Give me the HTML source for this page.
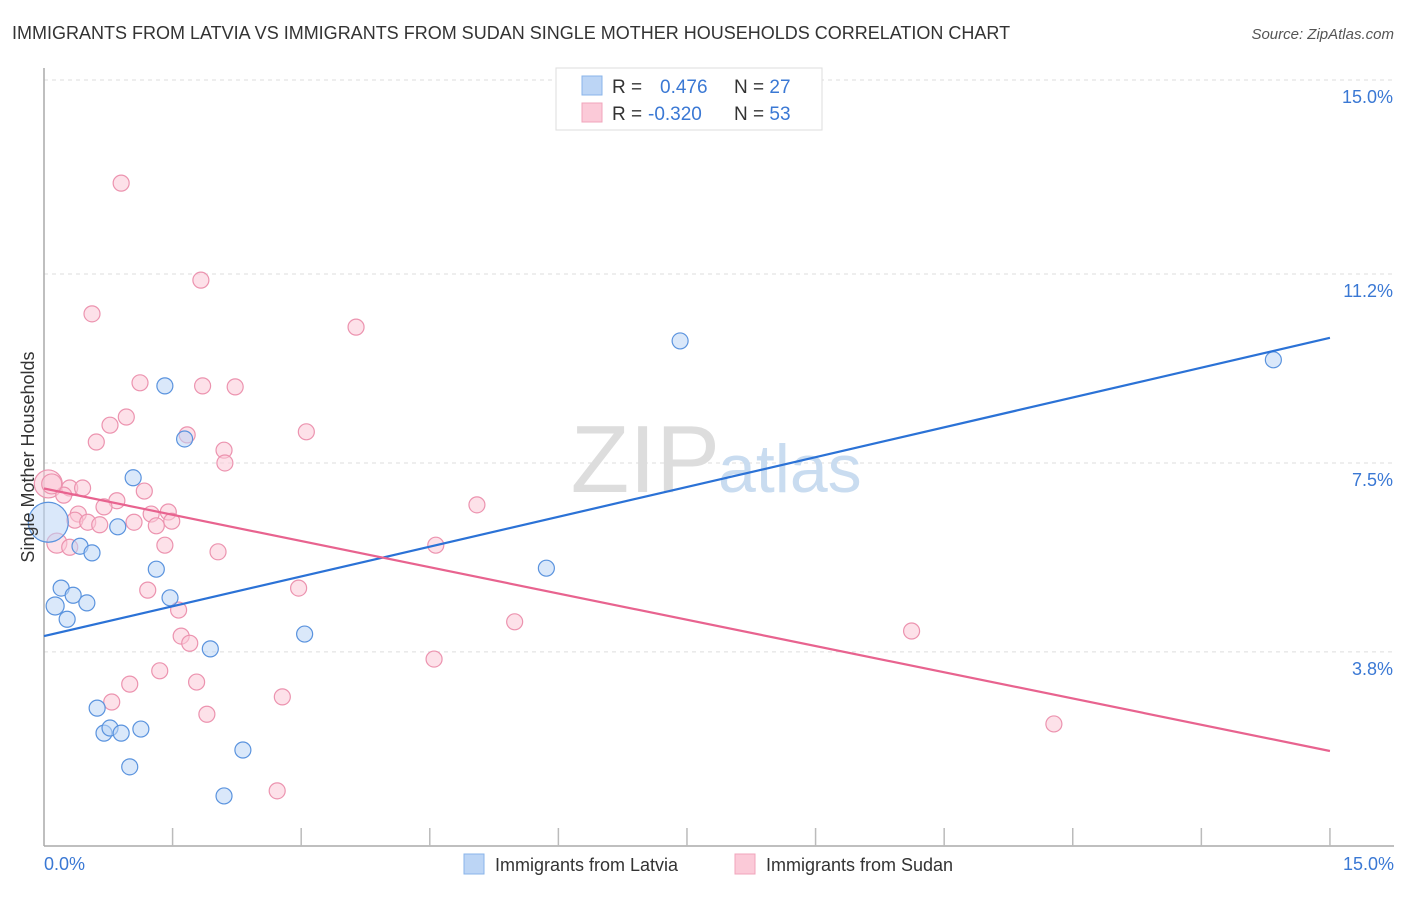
<!DOCTYPE html>
<html><head><meta charset="utf-8"><style>
body{margin:0;background:#fff;font-family:"Liberation Sans",sans-serif;}
svg text{font-family:"Liberation Sans",sans-serif;}
</style></head><body>
<svg id="chart" width="1406" height="892" xmlns="http://www.w3.org/2000/svg">
<text x="12" y="39" font-size="18" fill="#333">IMMIGRANTS FROM LATVIA VS IMMIGRANTS FROM SUDAN SINGLE MOTHER HOUSEHOLDS CORRELATION CHART</text>
<text x="1394" y="39" font-size="15" fill="#555" font-style="italic" text-anchor="end">Source: ZipAtlas.com</text>
<g id="grid"></g>
<text x="720" y="492" font-size="96" fill="#ddd" text-anchor="end" font-family="Liberation Serif">ZIP</text>
<text x="718" y="492" font-size="68" fill="#c9dcf0">atlas</text>
<line x1="44" y1="68" x2="44" y2="846" stroke="#aaa" stroke-width="1.5"/>
<line x1="44" y1="846" x2="1394" y2="846" stroke="#aaa" stroke-width="1.5"/>
<g id="ticks"></g>
<g id="marks"></g>
<text x="34" y="457" font-size="18" fill="#333" text-anchor="middle" transform="rotate(-90 34 457)">Single Mother Households</text>
<text x="44" y="870" font-size="18" fill="#3a78d4">0.0%</text>
<text x="1394" y="870" font-size="18" fill="#3a78d4" text-anchor="end">15.0%</text>
<g>
<rect x="556" y="68" width="266" height="62" fill="#fff" stroke="#ddd"/>
<rect x="582" y="76" width="20" height="19" fill="#bcd5f5" stroke="#8ab4ea"/>
<rect x="582" y="103" width="20" height="19" fill="#fbcad8" stroke="#f0a4bb"/>
<text x="612" y="93" font-size="19" fill="#333">R = <tspan x="660" fill="#3a78d4">0.476</tspan><tspan x="734" fill="#333">N = </tspan><tspan fill="#3a78d4">27</tspan></text>
<text x="612" y="120" font-size="19" fill="#333">R = <tspan x="648" fill="#3a78d4">-0.320</tspan><tspan x="734" fill="#333">N = </tspan><tspan fill="#3a78d4">53</tspan></text>
</g>
<g>
<rect x="464" y="854" width="20" height="20" fill="#bcd5f5" stroke="#8ab4ea"/>
<text x="495" y="871" font-size="18" fill="#333">Immigrants from Latvia</text>
<rect x="735" y="854" width="20" height="20" fill="#fbcad8" stroke="#f0a4bb"/>
<text x="766" y="871" font-size="18" fill="#333">Immigrants from Sudan</text>
</g>
</svg>
<script>
const yTicks=[3.8,7.5,11.2,15.0];
const yTickLabels=["3.8%","7.5%","11.2%","15.0%"];
const xTicks=[1.5,3,4.5,6,7.5,9,10.5,12,13.5,15];
const latviaX=[0.05,0.13,0.20,0.27,0.34,0.42,0.50,0.56,0.62,0.70,0.77,0.86,0.90,1.04,1.13,1.00,1.31,1.41,1.47,1.64,1.94,2.10,2.32,3.04,5.86,7.42,14.34];
const latviaY=[6.34,4.70,5.05,4.44,4.91,5.87,4.76,5.74,2.70,2.21,2.31,6.25,2.21,7.21,2.29,1.55,5.42,9.01,4.86,7.97,3.86,0.98,1.88,4.15,5.44,9.89,9.52];
const latviaSize=[20,9,8,8,8,8,8,8,8,8,8,8,8,8,8,8,8,8,8,8,8,8,8,8,8,8,8];
const sudanX=[0.90,1.83,0.56,3.64,1.12,1.85,2.23,0.96,0.77,0.61,1.67,3.06,2.10,2.11,0.05,0.30,0.45,0.23,1.17,0.85,0.70,0.40,0.36,0.51,0.65,1.05,1.25,1.45,1.49,1.31,0.15,0.30,1.41,2.03,5.05,4.57,1.21,2.97,1.57,5.49,1.60,1.70,10.12,1.35,4.55,1.00,1.78,0.79,2.78,1.90,11.78,2.72,0.09];
const sudanY=[12.98,11.08,10.42,10.16,9.07,9.01,8.99,8.40,8.24,7.91,8.05,8.11,7.75,7.50,7.09,7.01,7.01,6.87,6.95,6.76,6.64,6.50,6.38,6.34,6.29,6.34,6.50,6.54,6.36,6.27,5.93,5.85,5.89,5.76,6.68,5.89,5.01,5.05,4.62,4.39,4.11,3.97,4.21,3.43,3.66,3.17,3.21,2.82,2.92,2.58,2.39,1.08,7.09];
const sudanSize=[8,8,8,8,8,8,8,8,8,8,8,8,8,8,14,8,8,8,8,8,8,8,8,8,8,8,8,8,8,8,10,8,8,8,8,8,8,8,8,8,8,8,8,8,8,8,8,8,8,8,8,8,10];
const latviaTrend=[4.11,9.95];
const sudanTrend=[7.00,1.86];
const NS="http://www.w3.org/2000/svg";
const sx=v=>44+v*85.73, sy=v=>846-v*51.07;
function mk(tag,attrs,parent){const e=document.createElementNS(NS,tag);for(const k in attrs)e.setAttribute(k,attrs[k]);parent.appendChild(e);return e;}
const grid=document.getElementById('grid'),ticks=document.getElementById('ticks'),marks=document.getElementById('marks');
yTicks.forEach((v,i)=>{
 const l=mk('line',{x1:44,x2:1394,y1:sy(v),y2:sy(v),stroke:'#ddd','stroke-dasharray':'4 4'},grid);
 
 
 const t=mk('text',{x:1393,y:sy(v)+23,'font-size':18,fill:'#3a78d4','text-anchor':'end'},grid);
 t.textContent=yTickLabels[i];
 
 
});
xTicks.forEach(v=>{
 const l=mk('line',{x1:sx(v),x2:sx(v),y1:828,y2:846,stroke:'#bbb','stroke-width':1.5},ticks);
 
 
});
function pts(X,Y,S,fill,stroke,name){
 X.forEach((x,i)=>{
  const c=mk('circle',{cx:sx(x),cy:sy(Y[i]),r:S[i],fill:fill,'fill-opacity':0.55,stroke:stroke,'stroke-width':1.2},marks);
  
  
 });
}
pts(sudanX,sudanY,sudanSize,'#fbc8d7','#ec93af','sudan-point');
pts(latviaX,latviaY,latviaSize,'#bcd5f5','#5a93de','latvia-point');
const l1=mk('line',{x1:sx(0),y1:sy(latviaTrend[0]),x2:sx(15),y2:sy(latviaTrend[1]),stroke:'#2b72d6','stroke-width':2.2},marks);


const l2=mk('line',{x1:sx(0),y1:sy(sudanTrend[0]),x2:sx(15),y2:sy(sudanTrend[1]),stroke:'#e8638f','stroke-width':2.2},marks);


</script>
</body></html>
